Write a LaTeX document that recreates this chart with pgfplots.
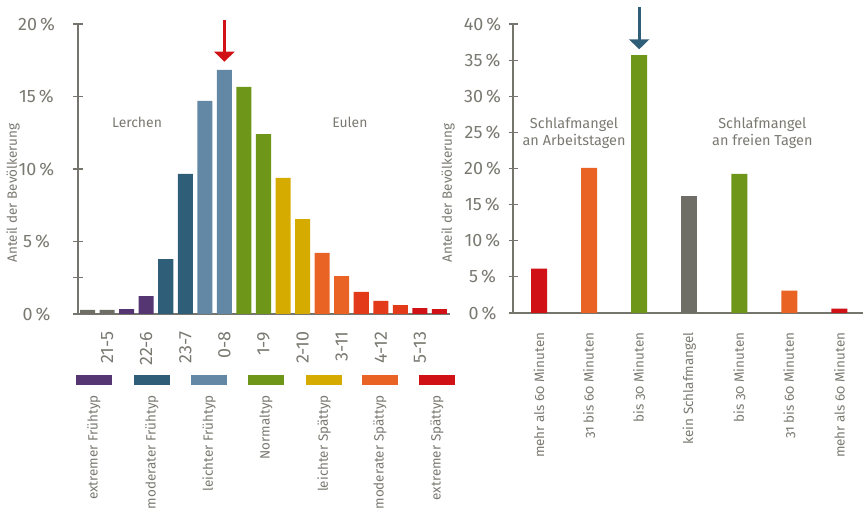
\documentclass[border=0pt]{standalone}
\usepackage{fontspec}
\setmainfont{Fira Sans}
\newfontfamily\osf{Fira Sans}[Numbers=OldStyle]
\usepackage{pgfplots}
\pgfplotsset{compat=1.18}
\usetikzlibrary{arrows.meta}
\definecolor{txt}{HTML}{7A7971}
\definecolor{axc}{HTML}{76756D}
\definecolor{cgray}{HTML}{6F6E66}
\definecolor{cpurple}{HTML}{563573}
\definecolor{cdblue}{HTML}{2F5F78}
\definecolor{clblue}{HTML}{6388A5}
\definecolor{cgreen}{HTML}{6E9618}
\definecolor{cyellow}{HTML}{D6AB00}
\definecolor{corange}{HTML}{E96324}
\definecolor{credor}{HTML}{E33B1A}
\definecolor{cred}{HTML}{D01217}
\begin{document}
\begin{tikzpicture}
\useasboundingbox (0,0) rectangle (864bp,517bp);
\pgfplotsset{
 common/.style={scale only axis, anchor=south west, axis x line*=bottom, axis y line*=left,
  axis line style={axc, line width=1.2bp, -}, ymin=0, ybar, bar shift=0pt, clip=false,
  tick align=center, major tick length=9bp, ytick style={axc, line width=1.2bp}, xtick style={draw=none},
  tick label style={text=txt}, /pgf/number format/assume math mode=true,
  yticklabel={\pgfmathprintnumber{\tick}\,\%},
  yticklabel style={anchor=center, font=\fontsize{18}{20}\selectfont},
  every axis plot/.append style={draw=none}}
}
% left chart
\begin{axis}[common, at={(78bp,203bp)}, width=372bp, height=290bp,
  xmin=0.51, xmax=19.54, ymax=20, ytick={0,5,10,15,20},
  extra y ticks={2.5}, extra y tick labels={},
  bar width=0.77,
  xtick={2,4,6,8,10,12,14,16,18},
  xticklabels={21-5,22-6,23-7,0-8,1-9,2-10,3-11,4-12,5-13},
  xticklabel style={rotate=90, anchor=east, inner sep=0pt, font=\fontsize{18}{20}\selectfont},
  xticklabel shift=13bp, yticklabel shift=37bp]
\addplot[fill=cgray] coordinates {(1,0.28)(2,0.28)};
\addplot[fill=cpurple] coordinates {(3,0.34)(4,1.24)};
\addplot[fill=cdblue] coordinates {(5,3.79)(6,9.66)};
\addplot[fill=clblue] coordinates {(7,14.69)(8,16.83)};
\addplot[fill=cgreen] coordinates {(9,15.66)(10,12.41)};
\addplot[fill=cyellow] coordinates {(11,9.38)(12,6.55)};
\addplot[fill=corange] coordinates {(13,4.21)(14,2.62)};
\addplot[fill=credor] coordinates {(15,1.52)(16,0.90)(17,0.62)};
\addplot[fill=cred] coordinates {(18,0.41)(19,0.34)};
\draw[cred, line width=3bp, -{Triangle[width=20bp,length=10bp]}] (axis cs:8,20.3) -- (axis cs:8,17.4);
\node[text=txt, font=\fontsize{14}{16}\selectfont] at (axis cs:3.53,13.24) {Lerchen};
\node[text=txt, font=\fontsize{14}{16}\selectfont] at (axis cs:14.42,13.24) {Eulen};
\end{axis}
% right chart
\begin{axis}[common, at={(513bp,204bp)}, width=350bp, height=289bp,
  xmin=-0.52, xmax=6.47, ymax=40, ytick={0,5,...,40},
  bar width=0.32, xtick={0,...,6},
  xticklabels={mehr als 60 Minuten,31 bis 60 Minuten,bis 30 Minuten,kein Schlafmangel,bis 30 Minuten,31 bis 60 Minuten,mehr als 60 Minuten},
  xticklabel style={rotate=90, anchor=east, inner sep=0pt, font=\osf\fontsize{13.5}{15}\selectfont},
  xticklabel shift=15bp, yticklabel shift=26bp]
\addplot[fill=cred] coordinates {(0,6.13)(6,0.6)};
\addplot[fill=corange] coordinates {(1,20.09)(5,3.09)};
\addplot[fill=cgreen] coordinates {(2,35.7)(4,19.26)};
\addplot[fill=cgray] coordinates {(3,16.2)};
\draw[cdblue, line width=3bp, -{Triangle[width=20bp,length=10bp]}] (axis cs:2,42.3) -- (axis cs:2,36.5);
\node[text=txt, align=center, font=\fontsize{14.5}{18}\selectfont] at (axis cs:0.7,24.9) {Schlafmangel\\an Arbeitstagen};
\node[text=txt, align=center, font=\fontsize{14.5}{18}\selectfont] at (axis cs:4.46,24.9) {Schlafmangel\\an freien Tagen};
\end{axis}
% legend of types (left)
\foreach \x/\c/\t in {94/cpurple/extremer Frühtyp, 152/cdblue/moderater Frühtyp, 209/clblue/leichter Frühtyp, 266/cgreen/Normaltyp, 324/cyellow/leichter Spättyp, 380/corange/moderater Spättyp, 437/cred/extremer Spättyp}{
  \fill[\c] ({\x bp-18bp},132bp) rectangle ({\x bp+18bp},142bp);
  \node[rotate=90, anchor=east, inner sep=0pt, text=txt, font=\fontsize{13.5}{15}\selectfont] at (\x bp,122bp) {\t};
}
\node[rotate=90, text=txt, font=\fontsize{13.5}{15}\selectfont] at (13bp,324bp) {Anteil der Bevölkerung};
\node[rotate=90, text=txt, font=\fontsize{13.5}{15}\selectfont] at (448bp,324bp) {Anteil der Bevölkerung};
\end{tikzpicture}
\end{document}
